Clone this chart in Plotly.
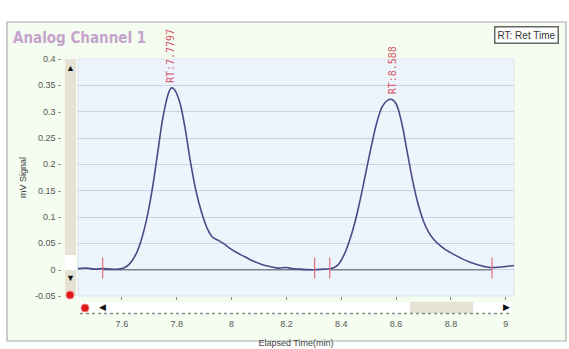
import plotly.graph_objects as go

# chromatogram trace (time in min, signal in mV)
time = [7.44, 7.47, 7.50, 7.53, 7.56, 7.59, 7.61, 7.63, 7.65, 7.67, 7.69, 7.71, 7.73,
        7.75, 7.77, 7.78, 7.79, 7.81, 7.83, 7.85, 7.87, 7.89, 7.91, 7.93, 7.95, 7.97,
        7.99, 8.02, 8.05, 8.08, 8.11, 8.14, 8.17, 8.20, 8.22, 8.25, 8.28, 8.31, 8.34,
        8.37, 8.39, 8.41, 8.43, 8.45, 8.47, 8.49, 8.51, 8.53, 8.55, 8.57, 8.585, 8.60,
        8.62, 8.64, 8.66, 8.68, 8.70, 8.72, 8.74, 8.76, 8.78, 8.81, 8.84, 8.87, 8.90,
        8.93, 8.96, 9.00, 9.03]
signal = [0.002, 0.003, 0.001, 0.002, 0.001, 0.001, 0.004, 0.012, 0.028, 0.055, 0.095, 0.15, 0.22,
          0.29, 0.335, 0.345, 0.343, 0.32, 0.27, 0.205, 0.15, 0.11, 0.08, 0.062, 0.056, 0.05,
          0.042, 0.032, 0.024, 0.016, 0.01, 0.006, 0.003, 0.004, 0.002, 0.001, 0.0, 0.0, 0.001,
          0.003, 0.01, 0.028, 0.055, 0.09, 0.135, 0.185, 0.235, 0.28, 0.31, 0.322, 0.323, 0.315,
          0.28, 0.225, 0.17, 0.125, 0.092, 0.07, 0.056, 0.046, 0.038, 0.029, 0.021, 0.014, 0.009,
          0.005, 0.004, 0.006, 0.008]

# integration baselines and peak markers
base_start = [7.53, 8.358]
base_end = [8.303, 8.95]
marker_times = [7.53, 8.303, 8.358, 8.95]
peak_rt = [7.7797, 8.588]
peak_height = [0.345, 0.323]
peak_labels = ["RT:7.7797", "RT:8.588"]

y_ticks = [-0.05, 0, 0.05, 0.1, 0.15, 0.2, 0.25, 0.3, 0.35, 0.4]
x_ticks = [7.6, 7.8, 8, 8.2, 8.4, 8.6, 8.8, 9]

W, H = 569, 349
L, R, T, B = 78, 55, 59, 53


def px(x):
    return (x - L) / (W - L - R)


def py(y):
    return (H - B - y) / (H - T - B)


fig = go.Figure()

for s, e in zip(base_start, base_end):
    fig.add_trace(go.Scatter(x=[s, e], y=[0, 0], mode="lines",
                             line=dict(color="#7c828c", width=1.5), hoverinfo="skip"))

fig.add_trace(go.Scatter(x=time, y=signal, mode="lines", line_shape="spline",
                         line=dict(color="#4c4a86", width=1.6)))

for t in marker_times:
    fig.add_trace(go.Scatter(x=[t, t], y=[-0.017, 0.023], mode="lines",
                             line=dict(color="#e0707a", width=1.2), hoverinfo="skip"))

for t, h, lab in zip(peak_rt, peak_height, peak_labels):
    fig.add_annotation(x=t, y=h, text=lab, textangle=-90, showarrow=False,
                       yanchor="bottom", yshift=3,
                       font=dict(family="DejaVu Sans Mono", size=10, color="#d65060"))

shapes = [
    # outer panel
    dict(type="rect", xref="paper", yref="paper", x0=px(7), x1=px(566), y0=py(341), y1=py(22),
         fillcolor="#f5fcf0", line=dict(color="#a8aea8", width=1.2), layer="below"),
    # plot background
    dict(type="rect", xref="paper", yref="paper", x0=0, x1=1, y0=0, y1=1,
         fillcolor="#eef4fc", line=dict(color="#dde4ee", width=1), layer="below"),
    # left scrollbar
    dict(type="rect", xref="paper", yref="paper", x0=px(65), x1=px(76), y0=py(296), y1=py(59),
         fillcolor="#e6e2d6", line=dict(width=0), layer="below"),
    dict(type="rect", xref="paper", yref="paper", x0=px(65), x1=px(76), y0=py(270), y1=py(255),
         fillcolor="#ffffff", line=dict(width=0), layer="below"),
    # bottom scrollbar
    dict(type="rect", xref="paper", yref="paper", x0=px(80), x1=px(512), y0=py(313), y1=py(302),
         fillcolor="#ffffff", line=dict(width=0)),
    dict(type="rect", xref="paper", yref="paper", x0=px(410), x1=px(473), y0=py(313), y1=py(302),
         fillcolor="#e6e2d6", line=dict(width=0)),
    dict(type="line", xref="paper", yref="paper", x0=px(80), x1=px(512), y0=py(313.5), y1=py(313.5),
         line=dict(color="#8a8a8a", width=1.5, dash="dot")),
    # red handles
    dict(type="circle", xref="paper", yref="paper", x0=px(66), x1=px(74), y0=py(299), y1=py(291),
         fillcolor="#e01818", line=dict(color="#f08080", width=1)),
    dict(type="circle", xref="paper", yref="paper", x0=px(81), x1=px(89), y0=py(312), y1=py(304),
         fillcolor="#e01818", line=dict(color="#f08080", width=1)),
]

arrows = [("▲", 70, 68), ("▼", 70, 278), ("◀", 102, 307), ("▶", 506, 307)]
for sym, ax, ay in arrows:
    fig.add_annotation(xref="paper", yref="paper", x=px(ax), y=py(ay), text=sym,
                       xanchor="center", yanchor="middle",
                       showarrow=False, font=dict(size=9, color="#111111"))

fig.add_annotation(xref="paper", yref="paper", x=px(11), y=py(38), text="<b>Analog Channel 1</b>",
                   showarrow=False, xanchor="left", yanchor="middle",
                   font=dict(family="DejaVu Sans Condensed", size=15, color="#c4a4cc"))
fig.add_annotation(xref="paper", yref="paper", x=px(526), y=py(35), text="RT: Ret Time",
                   showarrow=False, xanchor="center", yanchor="middle",
                   bordercolor="#666666", borderwidth=1.5, borderpad=2,
                   bgcolor="#ffffff", font=dict(family="Liberation Sans", size=10, color="#333333"))

fig.update_layout(
    width=W, height=H,
    margin=dict(l=L, r=R, t=T, b=B, autoexpand=False),
    paper_bgcolor="#ffffff", plot_bgcolor="rgba(0,0,0,0)",
    showlegend=False,
    shapes=shapes,
    font=dict(family="Liberation Sans", size=9, color="#555555"),
)
fig.update_xaxes(range=[7.44, 9.03], tickvals=x_ticks, ticktext=[str(v) for v in x_ticks],
                 showgrid=False, zeroline=False, ticks="outside", ticklen=3, tickcolor="#888888",
                 ticklabelstandoff=16, automargin=False,
                 title=dict(text="Elapsed Time(min)", standoff=11, font=dict(size=9, color="#444444")))
fig.update_yaxes(range=[-0.05, 0.4], tickvals=y_ticks, ticktext=[str(v) + " -" for v in y_ticks],
                 showgrid=True, gridcolor="#c8d2e2", gridwidth=1, zeroline=False,
                 ticklabelstandoff=16, automargin=False,
                 title=dict(text="mV Signal", standoff=6, font=dict(size=9, color="#444444")))

fig.write_html("out.html", config={"displayModeBar": False},
               post_script="document.body.style.margin='0px';")
